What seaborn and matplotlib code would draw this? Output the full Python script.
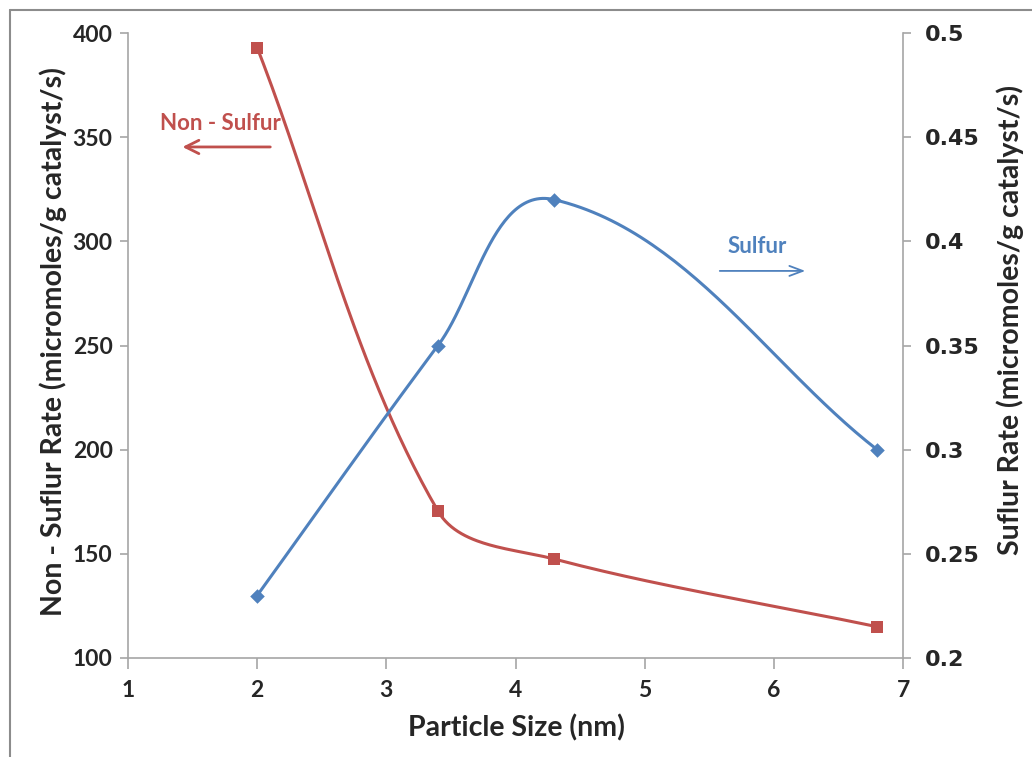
import numpy as np
import pandas as pd
import matplotlib
matplotlib.use("Agg")
import matplotlib.pyplot as plt
from matplotlib.lines import Line2D
import seaborn as sns

# Particle size (nm) and measured rates
particle_size = [2.0, 3.4, 4.3, 6.8]
non_sulfur_rate = [393.0, 170.5, 147.5, 115.0]   # micromoles/g catalyst/s
sulfur_rate = [0.230, 0.350, 0.420, 0.300]        # micromoles/g catalyst/s

x_ticks = [1, 2, 3, 4, 5, 6, 7]
left_ticks = [100, 150, 200, 250, 300, 350, 400]
right_ticks = [0.2, 0.25, 0.3, 0.35, 0.4, 0.45, 0.5]
right_tick_labels = ["0.2", "0.25", "0.3", "0.35", "0.4", "0.45", "0.5"]

RED = "#C0504D"
BLUE = "#4F81BD"
GRID_GRAY = "#A6A6A6"
LABEL_FONT = "Lato"

sns.set_theme(style="white")
plt.rcParams["font.family"] = [LABEL_FONT, "DejaVu Sans"]

fig = plt.figure(figsize=(10.32, 7.57), dpi=100)
ax = fig.add_axes([128 / 1032, 1 - 658 / 757, 775 / 1032, 625 / 757])
ax2 = ax.twinx()

ax.set_xlim(1, 7)
ax.set_ylim(100, 400)
ax2.set_ylim(0.2, 0.5)


def smooth_path(axis, xs, ys, n=60):
    """Smoothed line through the points: cubic Bezier segments whose
    tangents follow the neighbouring points, with handle lengths set by
    each segment's own length (computed in display space)."""
    pts = axis.transData.transform(np.column_stack([xs, ys]))
    m = len(pts)
    tang = np.zeros_like(pts)
    for i in range(m):
        a = pts[max(i - 1, 0)]
        b = pts[min(i + 1, m - 1)]
        d = b - a
        tang[i] = d / np.linalg.norm(d)
    out = []
    t = np.linspace(0, 1, n)[:, None]
    for i in range(m - 1):
        p0, p3 = pts[i], pts[i + 1]
        L = np.linalg.norm(p3 - p0) / 3.0
        c1 = p0 + tang[i] * L
        c2 = p3 - tang[i + 1] * L
        seg = ((1 - t) ** 3) * p0 + 3 * ((1 - t) ** 2) * t * c1 \
            + 3 * (1 - t) * t ** 2 * c2 + t ** 3 * p3
        out.append(seg if i == 0 else seg[1:])
    curve = axis.transData.inverted().transform(np.vstack(out))
    return pd.DataFrame({"x": curve[:, 0], "y": curve[:, 1]})


non_curve = smooth_path(ax, particle_size, non_sulfur_rate)
sul_curve = smooth_path(ax2, particle_size, sulfur_rate)

sns.lineplot(data=non_curve, x="x", y="y", sort=False, estimator=None,
             color=RED, linewidth=2.2, ax=ax)
sns.scatterplot(x=particle_size, y=non_sulfur_rate, marker="s", s=80,
                color=RED, edgecolor=RED, linewidth=0, ax=ax, zorder=5)

sns.lineplot(data=sul_curve, x="x", y="y", sort=False, estimator=None,
             color=BLUE, linewidth=2.2, ax=ax2)
sns.scatterplot(x=particle_size, y=sulfur_rate, marker="D", s=55,
                color=BLUE, edgecolor=BLUE, linewidth=0, ax=ax2, zorder=5)

ax.set_xlim(1, 7)
ax.set_ylim(100, 400)
ax2.set_ylim(0.2, 0.5)

# Axes styling
for a in (ax, ax2):
    a.spines["top"].set_visible(False)
    for side in ("left", "bottom", "right"):
        a.spines[side].set_color(GRID_GRAY)
        a.spines[side].set_linewidth(1.2)
ax.spines["right"].set_visible(False)
ax2.spines["left"].set_visible(False)
ax2.spines["bottom"].set_visible(False)

tick_font = dict(family=[LABEL_FONT, "DejaVu Sans"], weight="bold", size=16.5)
ax.set_xticks(x_ticks)
ax.set_xticklabels([str(v) for v in x_ticks], fontdict=tick_font)
ax.set_yticks(left_ticks)
ax.set_yticklabels([str(v) for v in left_ticks], fontdict=tick_font)
ax2.set_yticks(right_ticks)
ax2.set_yticklabels(right_tick_labels,
                    fontdict=dict(family="DejaVu Sans", weight="bold", size=16))

ax.tick_params(axis="x", direction="out", length=8, width=1.2, color=GRID_GRAY,
               pad=8, bottom=True)
ax.tick_params(axis="y", direction="out", length=6, width=1.2, color=GRID_GRAY,
               pad=5, left=True)
ax2.tick_params(axis="y", direction="out", length=6, width=1.2, color=GRID_GRAY,
                pad=10, right=True)

ax.set_xlabel("")
ax.set_ylabel("")
ax2.set_ylabel("")
ax.grid(False)
ax2.grid(False)

# Axis titles
fig.text(516 / 1032, 1 - 728 / 757, "Particle Size (nm)", ha="center",
         va="center", fontsize=20.5, fontweight="bold")
fig.text(53 / 1032, 1 - 342 / 757, "Non - Suflur Rate (micromoles/g catalyst/s)",
         ha="center", va="center", rotation=90, fontsize=20.5, fontweight="bold")
fig.text(1010 / 1032, 1 - 320 / 757, "Suflur Rate (micromoles/g catalyst/s)",
         ha="center", va="center", rotation=90, fontsize=20.5, fontweight="bold")

# Series call-outs
ax.text(1.712, 356.8, "Non - Sulfur", color=RED, fontsize=16,
        fontweight="bold", ha="center", va="center")
ax.annotate("", xy=(1.40, 345.3), xytext=(2.123, 345.3),
            arrowprops=dict(arrowstyle="->,head_length=0.8,head_width=0.4",
                            color=RED, lw=2.0))
ax.text(5.87, 297.3, "Sulfur", color=BLUE, fontsize=16,
        fontweight="bold", ha="center", va="center")
ax.annotate("", xy=(6.265, 285.8), xytext=(5.56, 285.8),
            arrowprops=dict(arrowstyle="->,head_length=0.8,head_width=0.3",
                            color=BLUE, lw=1.3))

# Chart-area frame
fig.add_artist(Line2D([10 / 1032, 10 / 1032], [0, 1 - 10 / 757],
                      transform=fig.transFigure, color="#8C8C8C", lw=1.5))
fig.add_artist(Line2D([10 / 1032, 1], [1 - 10 / 757, 1 - 10 / 757],
                      transform=fig.transFigure, color="#8C8C8C", lw=1.5))

fig.savefig("out.png", dpi=100, facecolor="white")
